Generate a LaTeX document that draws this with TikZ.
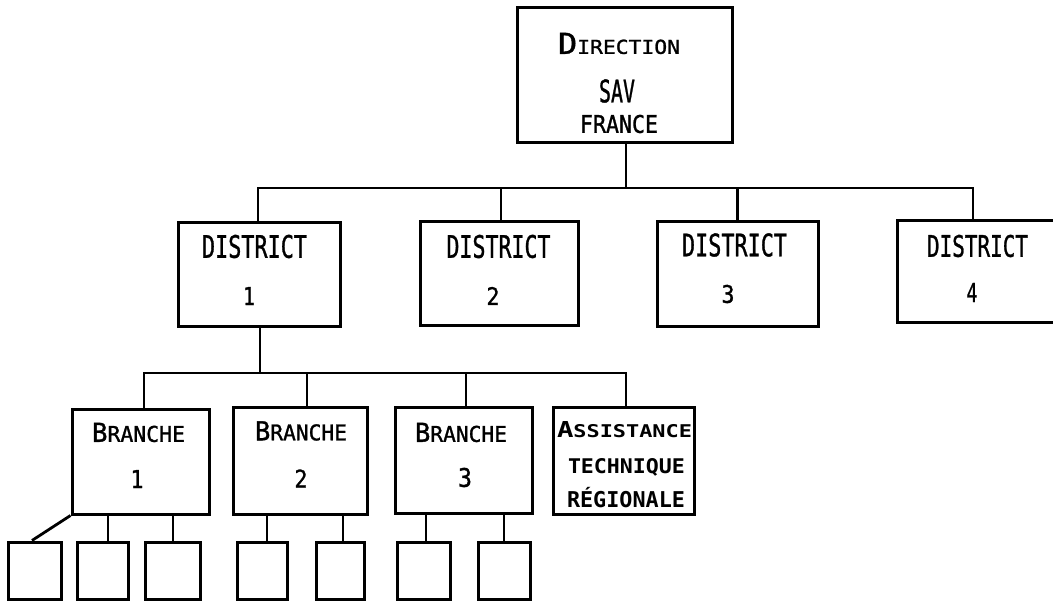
\documentclass[tikz,border=0pt]{standalone}
\usepackage{fontspec}
\usepackage{graphicx}
\newfontfamily\plotfont[FakeBold=1.2]{DejaVu Sans Mono}
\newfontfamily\plotbold{DejaVu Sans Mono Bold}
\newcommand\fitt[3]{\resizebox{#1pt}{#2pt}{#3}}
\newcommand\fitw[2]{\resizebox{#1pt}{!}{#2}}
\newcommand\bigs[1]{{\fontsize{30}{30}\selectfont #1}}
\newcommand\smls[2]{{\fontsize{#1}{#1}\selectfont #2}}
\tikzset{
  box/.style={draw, line width=3pt, inner sep=0pt, fill=none},
  conn/.style={draw, line width=2.8pt, line join=miter},
  txt/.style={inner sep=0pt, font=\plotfont},
  btxt/.style={inner sep=0pt, font=\plotbold},
}
\begin{document}
\begin{tikzpicture}[x=1pt,y=-1pt]
\useasboundingbox (0,0) rectangle (1053,604);
\fill[white] (0,0) rectangle (1053,604);
\clip (0,0) rectangle (1053,604);
% boxes
\node[box, minimum width=215pt, minimum height=135pt] (dir) at (624.5,75.5) {};
\node[box, minimum width=162pt, minimum height=104pt] (d1) at (259,275) {};
\node[box, minimum width=158pt, minimum height=104pt] (d2) at (499,274) {};
\node[box, minimum width=161pt, minimum height=105pt] (d3) at (737.5,274.5) {};
\node[box, minimum width=160pt, minimum height=102pt] (d4) at (977,272) {};
\node[box, minimum width=137pt, minimum height=105pt] (b1) at (140.5,461.5) {};
\node[box, minimum width=134pt, minimum height=107pt] (b2) at (300,460.5) {};
\node[box, minimum width=137pt, minimum height=106pt] (b3) at (463.5,460) {};
\node[box, minimum width=141pt, minimum height=107pt] (at) at (623.5,460.5) {};
\node[box, minimum width=53pt, minimum height=57pt] (sa) at (34.5,570.5) {};
\node[box, minimum width=51pt, minimum height=57pt] (sb) at (102.5,570.5) {};
\node[box, minimum width=55pt, minimum height=57pt] (sc) at (172.5,570.5) {};
\node[box, minimum width=50pt, minimum height=57pt] (sd) at (262,570.5) {};
\node[box, minimum width=48pt, minimum height=57pt] (se) at (340,570.5) {};
\node[box, minimum width=53pt, minimum height=57pt] (sf) at (423.5,570.5) {};
\node[box, minimum width=52pt, minimum height=57pt] (sg) at (504,570.5) {};
% texts
\node[txt] (t-dir1) at (619,43.5) {\fitt{122}{21}{\bigs{D}\smls{20}{IRECTION}}};
\node[txt] (t-dir2) at (617,91) {\fitt{36}{23}{SAV}};
\node[txt] (t-dir3) at (619,124) {\fitt{78}{18}{FRANCE}};
\node[txt] (t-d1a) at (254.5,246.5) {\fitt{105}{23}{DISTRICT}};
\node[txt] (t-d1b) at (249,296) {\fitt{12}{18}{1}};
\node[txt] (t-d2a) at (498.5,246.5) {\fitt{104}{23}{DISTRICT}};
\node[txt] (t-d2b) at (493,296) {\fitt{13}{18}{2}};
\node[txt] (t-d3a) at (734.5,245) {\fitt{105}{23}{DISTRICT}};
\node[txt] (t-d3b) at (728,294) {\fitt{13}{18}{3}};
\node[txt] (t-d4a) at (977.5,246) {\fitt{101}{22}{DISTRICT}};
\node[txt] (t-d4b) at (972,292.5) {\fitt{11}{19}{4}};
\node[txt] (t-b1a) at (138.5,432.5) {\fitt{93}{19}{\bigs{B}\smls{25}{RANCHE}}};
\node[txt] (t-b1b) at (137,479) {\fitt{13}{18}{1}};
\node[txt] (t-b2a) at (301,431) {\fitt{92}{19}{\bigs{B}\smls{25}{RANCHE}}};
\node[txt] (t-b2b) at (301,478.5) {\fitt{13}{18}{2}};
\node[txt] (t-b3a) at (461,432.5) {\fitt{92}{19}{\bigs{B}\smls{25}{RANCHE}}};
\node[txt] (t-b3b) at (465,477.5) {\fitt{14}{19}{3}};
\node[btxt] (t-at1) at (624.5,430) {\fitt{135}{16}{\bigs{A}\smls{24}{SSISTANCE}}};
\node[btxt] (t-at2) at (626.5,467.5) {\fitt{117}{15}{TECHNIQUE}};
\node[btxt, anchor=base] (t-at3) at (626,507.5) {\fitw{118}{RÉGIONALE}};
% connectors level 1
\coordinate (busA) at (626,188);
\coordinate (busB) at (260,373);
\draw[conn] (dir.south -| busA) -- (busA);
\draw[conn] ([xshift=-1pt]d1.north) |- ([xshift=-4pt]d4.north |- busA) -- ([xshift=-4pt]d4.north);
\draw[conn] ([xshift=2pt]d2.north) -- ([xshift=2pt]d2.north |- busA);
\draw[conn] (d3.north) -- (d3.north |- busA);
% connectors level 2
\draw[conn] ([xshift=1pt]d1.south) -- (busB);
\draw[conn] ([xshift=3.5pt]b1.north) |- ([xshift=2.5pt]at.north |- busB) -- ([xshift=2.5pt]at.north);
\draw[conn] ([xshift=7pt]b2.north) -- ([xshift=7pt]b2.north |- busB);
\draw[conn] ([xshift=2.5pt]b3.north) -- ([xshift=2.5pt]b3.north |- busB);
% connectors level 3
\draw[conn] (b1.south west) -- ([xshift=-2.5pt]sa.north);
\draw[conn] ([xshift=5.5pt]sb.north) -- ([xshift=5.5pt]sb.north |- b1.south);
\draw[conn] ([xshift=0.5pt]sc.north) -- ([xshift=0.5pt]sc.north |- b1.south);
\draw[conn] ([xshift=5pt]sd.north) -- ([xshift=5pt]sd.north |- b2.south);
\draw[conn] ([xshift=3pt]se.north) -- ([xshift=3pt]se.north |- b2.south);
\draw[conn] ([xshift=2.5pt]sf.north) -- ([xshift=2.5pt]sf.north |- b3.south);
\draw[conn] (sg.north) -- (sg.north |- b3.south);
\end{tikzpicture}
\end{document}
